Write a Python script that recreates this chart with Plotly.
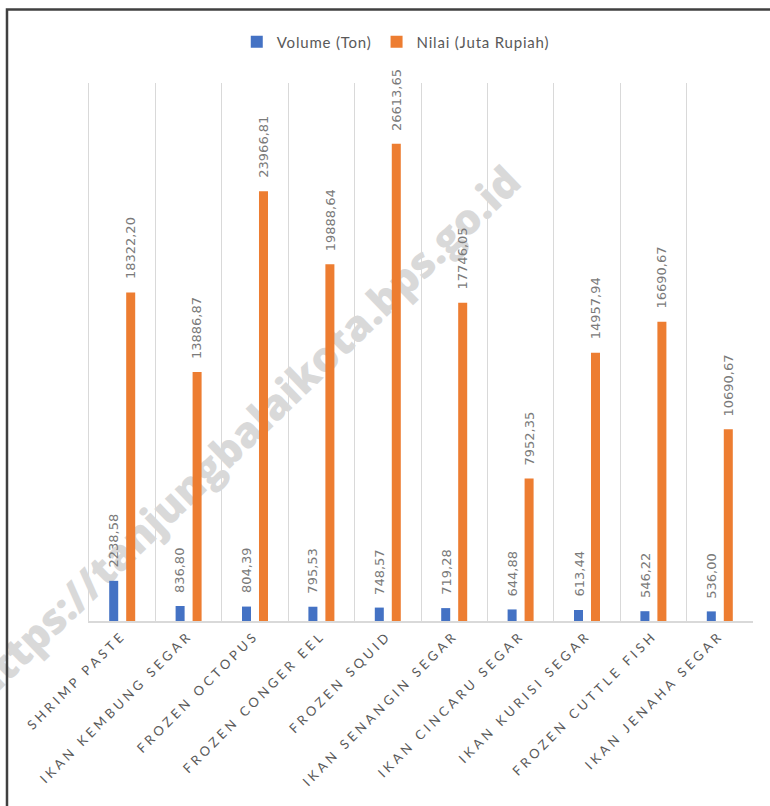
import plotly.graph_objects as go

categories = ["SHRIMP PASTE", "IKAN KEMBUNG SEGAR", "FROZEN OCTOPUS", "FROZEN CONGER EEL",
              "FROZEN SQUID", "IKAN SENANGIN SEGAR", "IKAN CINCARU SEGAR", "IKAN KURISI SEGAR",
              "FROZEN CUTTLE FISH", "IKAN JENAHA SEGAR"]
volume = [2238.58, 836.80, 804.39, 795.53, 748.57, 719.28, 644.88, 613.44, 546.22, 536.00]
nilai = [18322.20, 13886.87, 23966.81, 19888.64, 26613.65, 17746.05, 7952.35, 14957.94, 16690.67, 10690.67]
series_names = ["Volume (Ton)", "Nilai (Juta Rupiah)"]
watermark = "https://tanjungbalaikota.bps.go.id"

BLUE = "#4472C4"
ORANGE = "#ED7D31"
GRID = "#d9d9d9"
TXT = "#595959"
LBL = "#7a7a7a"


def fmt(v):
    return f"{v:.2f}".replace(".", ",")


def spaced(s, px):
    return f'<span style="letter-spacing:{px}px">{s}</span>'


def px_to_paper(x, y):
    return (x - 89) / 664, (621 - y) / 538


fig = go.Figure()
fig.add_trace(go.Bar(x=categories, y=volume, name=spaced(series_names[0], 0.8),
                     marker=dict(color=BLUE, line=dict(width=0)), hoverinfo="skip"))
fig.add_trace(go.Bar(x=categories, y=nilai, name=spaced(series_names[1], 0.8),
                     marker=dict(color=ORANGE, line=dict(width=0)), hoverinfo="skip"))

annotations = []
for vals, dx in ((volume, -8.5), (nilai, 8.5)):
    for c, v in zip(categories, vals):
        annotations.append(dict(x=c, y=v, xref="x", yref="y", text=fmt(v), showarrow=False,
                                textangle=-90, yanchor="bottom", xanchor="center",
                                xshift=dx, yshift=11,
                                font=dict(family="DejaVu Sans", size=13, color=LBL)))

wx0, wy0 = px_to_paper(36, 634)
wx1, wy1 = px_to_paper(456, 234)

fig.update_layout(
    width=770, height=806,
    margin=dict(l=89, r=17, t=83, b=185),
    paper_bgcolor="white", plot_bgcolor="white",
    barmode="group", bargap=0.488, bargroupgap=0.47,
    showlegend=True,
    legend=dict(orientation="h", x=0.462, xanchor="center", y=1.076, yanchor="middle",
                font=dict(family="Lato", size=15, color=TXT), bgcolor="rgba(0,0,0,0)",
                itemwidth=30),
    xaxis=dict(tickmode="array", tickvals=categories,
               ticktext=[spaced(c, 3.6) for c in categories],
               tickson="boundaries", showgrid=True, gridcolor=GRID, gridwidth=1,
               showline=True, linecolor=GRID, linewidth=1.5, ticks="",
               tickangle=-45, tickfont=dict(family="Lato", size=13, color=TXT),
               fixedrange=True),
    yaxis=dict(range=[0, 30000], showgrid=False, zeroline=False, showticklabels=False,
               showline=True, linecolor=GRID, linewidth=1, fixedrange=True),
    annotations=annotations,
    shapes=[
        dict(type="rect", xref="paper", yref="paper", x0=-0.1235, x1=1.05, y0=-0.4, y1=1.1366,
             line=dict(color="#404040", width=2.5), fillcolor="rgba(0,0,0,0)", layer="above"),
        dict(type="line", xref="paper", yref="paper",
             x0=wx0, y0=wy0, x1=wx1, y1=wy1,
             line=dict(color="rgba(0,0,0,0)", width=0), layer="below",
             label=dict(text=watermark, textposition="middle", textangle=-44,
                        yanchor="middle", xanchor="center", padding=0,
                        font=dict(family="Open Sans", size=42, color="#d9d9d9", weight=800))),
    ],
)

fig.write_html("out.html", config={"displayModeBar": False},
               post_script="document.body.style.margin='0';")
